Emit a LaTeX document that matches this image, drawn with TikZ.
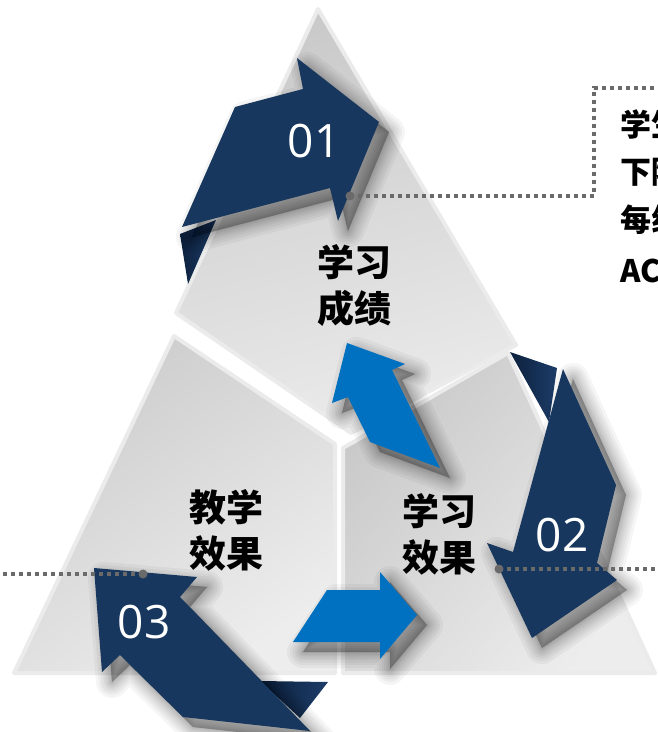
\documentclass[tikz,border=0pt]{standalone}
\usepackage{fontspec}
\newfontfamily\cjk{Noto Sans CJK SC}
\newfontfamily\numfont{Open Sans}
\definecolor{navy}{HTML}{17375E}
\definecolor{navydark}{HTML}{0D213D}
\definecolor{navymid}{HTML}{1C3C68}
\definecolor{brightblue}{HTML}{0070C0}
\definecolor{dotgrey}{HTML}{6A6A6A}
\definecolor{edgegrey}{HTML}{EBEBEB}
\tikzset{
  piece/.style={draw=edgegrey, line width=4pt, line join=round},
  softshadow/.style={fill=black, draw=black, opacity=0.04, line join=round, shift={(10,10)}},
  navyarrow/.style={fill=navy},
  brightarrow/.style={fill=brightblue},
  fold/.style={left color=navydark, right color=navymid},
  label/.style={font=\cjk\bfseries\fontsize{37}{46}\selectfont, align=center, text=black},
  num/.style={font=\numfont\fontsize{46}{46}\selectfont, text=white},
  side/.style={font=\cjk\bfseries\fontsize{31}{31}\selectfont, anchor=west, text=black},
  dotline/.style={draw=dotgrey, line width=3.6pt, dash pattern=on 3.6pt off 4.4pt},
  dotend/.style={fill=dotgrey}
}
\def\arrowone{(182,227) -- (235,107) -- (303,89) -- (297,58) -- (379,122) -- (338,221) -- (330,188) -- cycle}
\def\arrowtwo{(563,369) -- (616,485) -- (597,563) -- (617,580) -- (532,638) -- (487,543) -- (513,552) -- cycle}
\def\arrowthree{(94,568) -- (197,577) -- (180,597) -- (310,731) -- (183,717) -- (120,655) -- (102,672) -- cycle}
\def\arrowup{(347,343) -- (405,364) -- (392,370) -- (440,468) -- (370,442) -- (348,397) -- (332,403) -- cycle}
\def\arrowright{(293,642) -- (327,590) -- (380,590) -- (380,572) -- (417,615) -- (380,659) -- (380,642) -- cycle}
\begin{document}
\begin{tikzpicture}[x=1pt,y=-1pt]
\useasboundingbox (0,0) rectangle (658,732);
\clip (0,0) rectangle (658,732);
\fill[white] (0,0) rectangle (658,732);

% three pieces of the triangle
\shadedraw[piece, top color=black!21, bottom color=black!8, shading angle=15]
  (318,9) -- (516,345) -- (351,433) -- (176,313) -- cycle;
\shadedraw[piece, top color=black!20, bottom color=black!7, shading angle=35]
  (174,336) -- (335,444) -- (335,673) -- (14,673) -- cycle;
\shadedraw[piece, top color=black!21, bottom color=black!7, shading angle=50]
  (343,448) -- (508,353) -- (655,673) -- (343,673) -- cycle;

% folds behind the arrows
\shade[fold] (180,234) -- (216,220) -- (188,284) -- cycle;
\shade[fold] (510,352) -- (557,368) -- (549,422) -- cycle;
\shade[fold] (260,681) -- (328,682) -- (300,718) -- cycle;

% soft shadows of the arrows
\foreach \w in {32,26,21,16,12,8,5,2} {
  \filldraw[softshadow, line width=\w pt] \arrowone;
  \filldraw[softshadow, line width=\w pt] \arrowtwo;
  \filldraw[softshadow, line width=\w pt] \arrowthree;
  \filldraw[softshadow, line width=\w pt] \arrowup;
  \filldraw[softshadow, line width=\w pt] \arrowright;
}

% navy arrows
\fill[navyarrow] \arrowone;
\fill[navyarrow] \arrowtwo;
\fill[navyarrow] \arrowthree;

% bright blue arrows
\fill[brightarrow] \arrowup;
\fill[brightarrow] \arrowright;

% labels
\node[label] (l1) at (354,286) {学习\\成绩};
\node[label] (l2) at (226,530) {教学\\效果};
\node[label] (l3) at (439,534) {学习\\效果};
\node[num] (n1) at (314,141) {01};
\node[num] (n2) at (562,535) {02};
\node[num] (n3) at (144,622) {03};

% side text (cut off by the right edge, as in the reference)
\node[side] (s1) at (617,124) {学生};
\node[side] (s2) at (617,172) {下降};
\node[side] (s3) at (617,220) {每组};
\node[side] (s4) at (617,271) {AC};

% dotted leaders
\coordinate (d1) at (350,196);
\coordinate (b1) at (594,196);
\coordinate (b2) at (594,88);
\coordinate (e1) at (660,88);
\coordinate (d2) at (499,569);
\coordinate (e2) at (660,569);
\coordinate (d3) at (143,574);
\coordinate (e3) at (-2,574);
\draw[dotline] (d1) -- (b1) -- (b2) -- (e1);
\draw[dotline] (d2) -- (e2);
\draw[dotline] (d3) -- (e3);
\fill[dotend] (d1) circle (4.5);
\fill[dotend] (d2) circle (4.5);
\fill[dotend] (d3) circle (4.5);
\end{tikzpicture}
\end{document}
